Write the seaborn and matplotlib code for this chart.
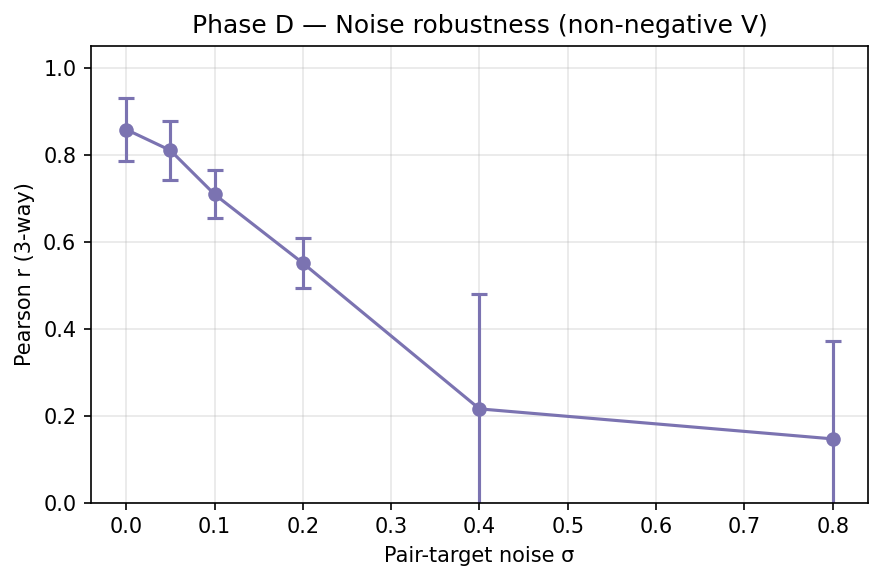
import numpy as np
import pandas as pd
import matplotlib
matplotlib.use("Agg")
import matplotlib.pyplot as plt
import seaborn as sns

noise_sigma = [0.0, 0.05, 0.1, 0.2, 0.4, 0.8]
pearson_mean = [0.858, 0.810, 0.709, 0.551, 0.216, 0.147]
pearson_err = [0.073, 0.068, 0.055, 0.058, 0.265, 0.224]

df = pd.DataFrame({"sigma": noise_sigma, "r": pearson_mean, "err": pearson_err})

plt.rcParams['font.family'] = ['DejaVu Sans']
color = "#7b73b1"

fig, ax = plt.subplots(figsize=(883/150, 582/150), dpi=150)
fig.subplots_adjust(left=0.103, right=0.983, top=0.921, bottom=0.136)

ax.errorbar(df["sigma"], df["r"], yerr=df["err"], fmt="none", ecolor=color,
            elinewidth=1.5, capsize=4, capthick=1.5, zorder=2)
sns.lineplot(data=df, x="sigma", y="r", marker="o", markersize=7, color=color,
             linewidth=1.5, markeredgewidth=0, ax=ax, zorder=3)

ax.set_ylim(0, 1.05)
ax.set_xticks([0.0, 0.1, 0.2, 0.3, 0.4, 0.5, 0.6, 0.7, 0.8])
ax.set_yticks([0.0, 0.2, 0.4, 0.6, 0.8, 1.0])
ax.grid(True, alpha=0.3)
ax.set_xlabel("Pair-target noise σ")
ax.set_ylabel("Pearson r (3-way)")
ax.set_title("Phase D — Noise robustness (non-negative V)", fontsize=12)

fig.savefig("out.png", dpi=150)
